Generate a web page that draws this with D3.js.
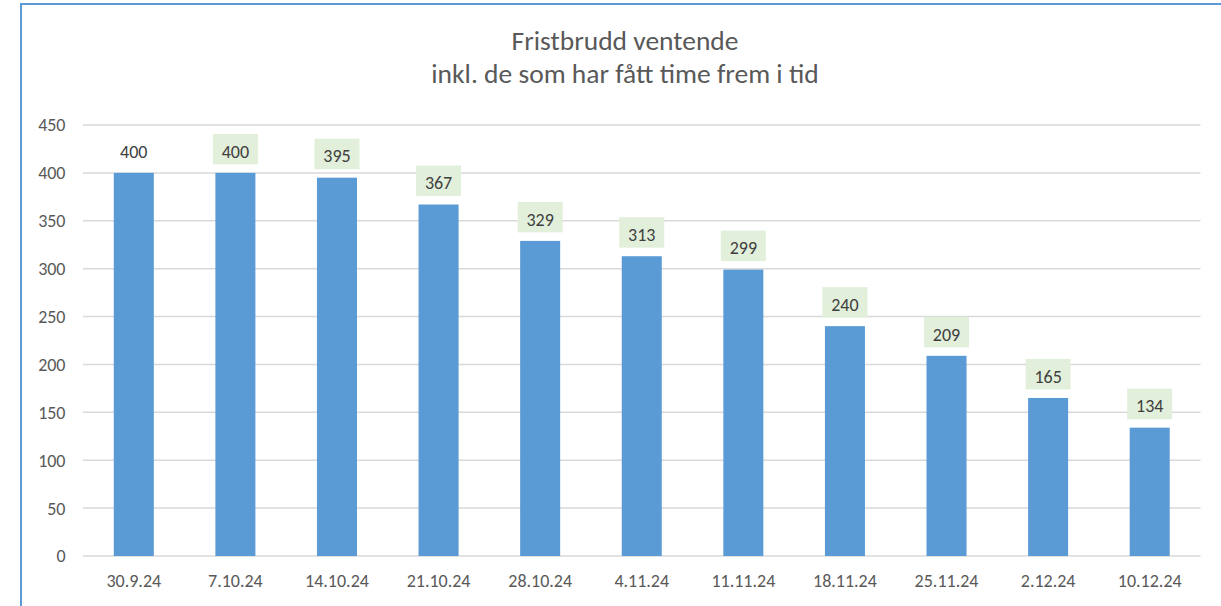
<!DOCTYPE html>
<html><head><meta charset="utf-8">
<script src="https://cdn.jsdelivr.net/npm/d3@7"></script>
<style>html,body{margin:0;padding:0;background:#fff;}svg{display:block;}</style>
</head><body>
<svg id="chart" width="1221" height="606"></svg>
<script>
const categories = ["30.9.24","7.10.24","14.10.24","21.10.24","28.10.24","4.11.24","11.11.24","18.11.24","25.11.24","2.12.24","10.12.24"];
const values = [400,400,395,367,329,313,299,240,209,165,134];
const labelBoxed = [false,true,true,true,true,true,true,true,true,true,true];
const yTicks = [0,50,100,150,200,250,300,350,400,450];
const titleLines = ["Fristbrudd ventende","inkl. de som har fått time frem i tid"];

const svg = d3.select("#chart");
const font = "Carlito, Calibri, 'Open Sans', sans-serif";
const textColor = "#595959";

// border
svg.append("rect").attr("x",21).attr("y",4).attr("width",1240).attr("height",640)
  .attr("fill","none").attr("stroke","#5b9bd5").attr("stroke-width",2);

const x = d3.scaleBand().domain(categories).range([83,1200.5]).paddingInner(0.606).paddingOuter(0.303);
const y = d3.scaleLinear().domain([0,450]).range([556,125]);

// gridlines
svg.append("g").selectAll("line").data(yTicks).join("line")
  .attr("x1",83).attr("x2",1200.5)
  .attr("y1",d=>y(d)).attr("y2",d=>y(d))
  .attr("stroke","#d9d9d9").attr("stroke-width",1.5);

// y axis labels
const yAxis = d3.axisLeft(y).tickValues(yTicks).tickSize(0).tickPadding(0);
const yg = svg.append("g").attr("transform","translate(65.5,0)").call(yAxis);
yg.select(".domain").remove();
yg.selectAll("text").attr("font-family",font).attr("font-size","18px").attr("fill",textColor).attr("dy","0.33em");

// bars
svg.append("g").selectAll("rect").data(values).join("rect")
  .attr("x",(d,i)=>x(categories[i])).attr("width",x.bandwidth())
  .attr("y",d=>y(d)).attr("height",d=>y(0)-y(d))
  .attr("fill","#5b9bd5");

// x axis labels
const xAxis = d3.axisBottom(x).tickSize(0).tickPadding(0);
const xg = svg.append("g").attr("transform","translate(0,587)").call(xAxis);
xg.select(".domain").remove();
xg.selectAll("text").attr("font-family",font).attr("font-size","18px").attr("fill",textColor).attr("dy","0");

// data labels
const lg = svg.append("g");
values.forEach((v,i)=>{
  const cx = x(categories[i]) + x.bandwidth()/2;
  const by = y(v);
  if (labelBoxed[i]) {
    lg.append("rect").attr("x",cx-22.5).attr("y",by-39).attr("width",45).attr("height",30.5).attr("fill","#e2efda");
  }
  lg.append("text").attr("x",cx).attr("y",by-15.3).attr("text-anchor","middle")
    .attr("font-family",font).attr("font-size","18px").attr("fill","#404040").text(v);
});

// title
svg.append("g").selectAll("text").data(titleLines).join("text")
  .attr("x",625).attr("y",(d,i)=>50+i*33).attr("text-anchor","middle")
  .attr("font-family",font).attr("font-size","27.5px").attr("fill",textColor).text(d=>d);
</script>
</body></html>
